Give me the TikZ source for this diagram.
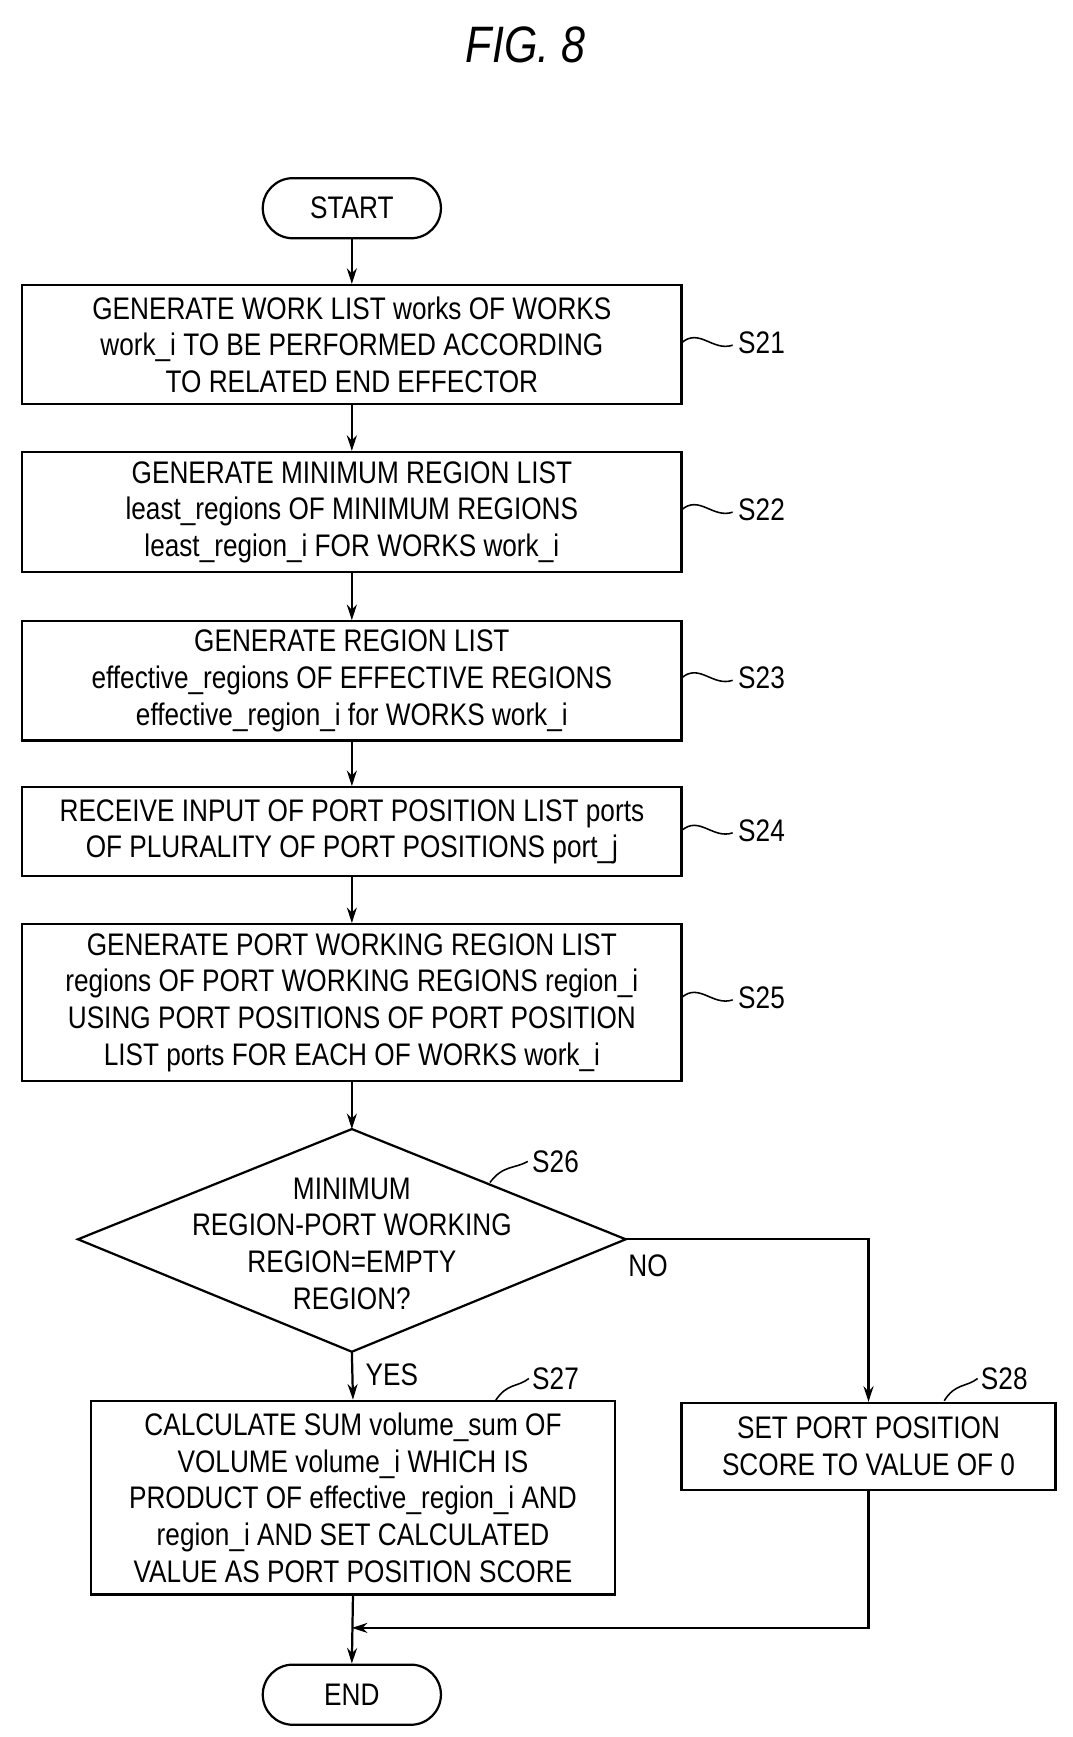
\documentclass[tikz,border=0pt]{standalone}
\usepackage{fontspec}
\setmainfont{Liberation Sans}[FakeStretch=0.84]
\usetikzlibrary{shapes.geometric,arrows.meta}
\begin{document}
\begin{tikzpicture}[x=1pt,y=-1pt,line width=2pt,
  every node/.style={font=\fontsize{28}{33}\selectfont, align=center, inner sep=0pt},
  box/.style={draw, rectangle},
  term/.style={draw, rounded rectangle, minimum width=160pt, minimum height=54pt},
  arr/.style={-{Stealth[length=14pt,width=9pt]}},
  lab/.style={anchor=west}]
\useasboundingbox (0,0) rectangle (963,1560);
\node[font=\fontsize{46}{50}\selectfont\itshape] (title) at (472,40) {FIG. 8};
\node[draw, rounded corners=27pt, minimum width=160pt, minimum height=54pt] (start) at (316,187) {START};
\node[box, minimum width=592pt, minimum height=107pt] (s21) at (316,309.5) {GENERATE WORK LIST works OF WORKS\\work\_i TO BE PERFORMED ACCORDING\\TO RELATED END EFFECTOR};
\node[box, minimum width=592pt, minimum height=108pt] (s22) at (316,460) {GENERATE MINIMUM REGION LIST\\least\_regions OF MINIMUM REGIONS\\least\_region\_i FOR WORKS work\_i};
\node[box, minimum width=592pt, minimum height=107pt] (s23) at (316,611.5) {GENERATE REGION LIST\\effective\_regions OF EFFECTIVE REGIONS\\effective\_region\_i for WORKS work\_i};
\node[box, minimum width=592pt, minimum height=80pt] (s24) at (316,747) {RECEIVE INPUT OF PORT POSITION LIST ports\\OF PLURALITY OF PORT POSITIONS port\_j};
\node[box, minimum width=592pt, minimum height=141pt] (s25) at (316,900.5) {GENERATE PORT WORKING REGION LIST\\regions OF PORT WORKING REGIONS region\_i\\USING PORT POSITIONS OF PORT POSITION\\LIST ports FOR EACH OF WORKS work\_i};
\coordinate (dt) at (316,1014); \coordinate (db) at (316,1214);
\coordinate (dl) at (70,1113); \coordinate (dr) at (562,1113);
\draw (dt) -- (dr) -- (db) -- (dl) -- cycle;
\node (s26) at (316,1117) {MINIMUM\\REGION-PORT WORKING\\REGION=EMPTY\\REGION?};
\node[box, minimum width=470pt, minimum height=174pt] (s27) at (317,1345) {CALCULATE SUM volume\_sum OF\\VOLUME volume\_i WHICH IS\\PRODUCT OF effective\_region\_i AND\\region\_i AND SET CALCULATED\\VALUE AS PORT POSITION SCORE};
\node[box, minimum width=336pt, minimum height=78pt] (s28) at (780,1299) {SET PORT POSITION\\SCORE TO VALUE OF 0};
\node[draw, rounded corners=27pt, minimum width=160pt, minimum height=54pt] (end) at (316,1522) {END};
\coordinate (merge) at (316,1462);
\coordinate (corner) at (780,1113);
\coordinate (mr) at (780,1462);
% connectors
\draw[arr] (start) -- (s21);
\draw[arr] (s21) -- (s22);
\draw[arr] (s22) -- (s23);
\draw[arr] (s23) -- (s24);
\draw[arr] (s24) -- (s25);
\draw[arr] (s25.south) -- (dt);
\draw[arr] (db) -- (s27.north);
\draw[arr] (dr) -- (corner) -- (s28.north);
\draw[arr] (s27.south) -- (end.north);
\draw[arr] (s28.south) -- (mr) -- (merge);
\node (yes) at (352,1235) {YES};
\node (no) at (582,1137) {NO};
% step labels
\foreach \n/\y in {21/308,22/458,23/609,24/746,25/896}{
  \coordinate (a\n) at (612,\y); \coordinate (b\n) at (658,\y+2);
  \draw[line width=1.4pt] (a\n) .. controls (628,\y-14) and (640,\y+8) .. (b\n);
  \node[lab] (l\n) at (662,\y) {S\n};
}
\draw[line width=1.4pt] (440,1062) .. controls (452,1046) and (462,1050) .. (474,1043);
\node[lab] (l26) at (477,1043) {S26};
\draw[line width=1.4pt] (445,1258) .. controls (455,1242) and (465,1246) .. (475,1238);
\node[lab] (l27) at (477,1238) {S27};
\draw[line width=1.4pt] (848,1258) .. controls (858,1242) and (868,1246) .. (878,1238);
\node[lab] (l28) at (880,1238) {S28};
\end{tikzpicture}
\end{document}
